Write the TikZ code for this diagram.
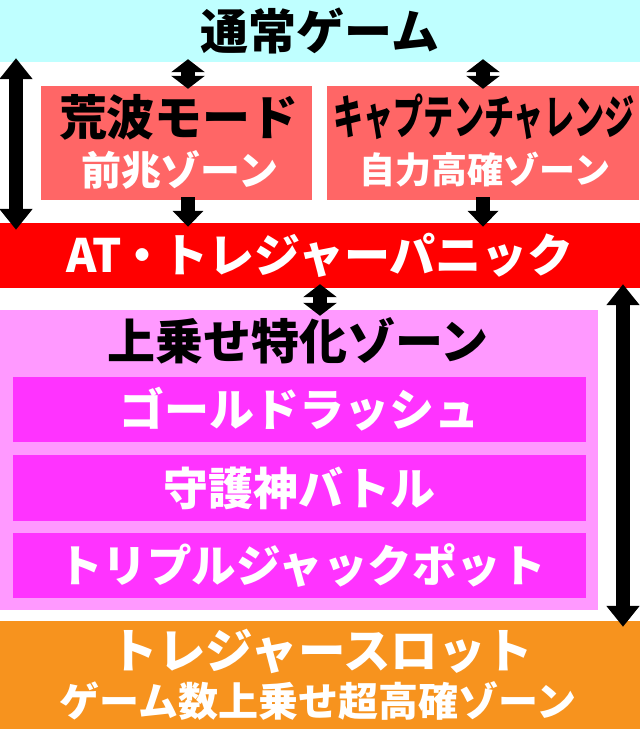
\documentclass[tikz,border=0pt]{standalone}
\usepackage{fontspec}
\newfontfamily\jpfont{Noto Sans CJK JP}
\usetikzlibrary{arrows.meta}

\definecolor{tsujo}{HTML}{BFFFFF}
\definecolor{zenchou}{HTML}{FF6666}
\definecolor{atred}{HTML}{FF0000}
\definecolor{tokka}{HTML}{FF99FF}
\definecolor{tokkain}{HTML}{FF33FF}
\definecolor{slotor}{HTML}{F7931E}

\newcommand{\jpsize}[1]{\fontsize{#1}{#1}\selectfont}

\tikzset{
  band/.style={inner sep=0pt, draw=none, font=\jpfont\bfseries\jpsize{46}},
  label/.style={inner sep=0pt, font=\jpfont\bfseries\jpsize{#1}},
  dblarr/.style={line width=14pt, {Triangle[length=13pt,width=33pt]}-{Triangle[length=13pt,width=33pt]}},
  longarr/.style={line width=14pt, {Triangle[length=21pt,width=32pt]}-{Triangle[length=21pt,width=32pt]}},
  downarr/.style={line width=14pt, -{Triangle[length=16pt,width=30pt]}}
}

\begin{document}
\begin{tikzpicture}[x=1pt,y=1pt]

\useasboundingbox (0,0) rectangle (640,-729);

% Bandas e caixas
\node[band, fill=tsujo, minimum width=640pt, minimum height=62pt, font=\jpfont\bfseries\jpsize{48}] (normal) at (320,-31) {通常ゲーム};
\node[band, fill=zenchou, minimum width=271pt, minimum height=114pt] (arawave) at (176.5,-143) {};
\node[band, fill=zenchou, minimum width=312pt, minimum height=114pt] (captain) at (483,-143) {};
\node[band, fill=atred, text=white, minimum width=640pt, minimum height=65pt] (atpanic) at (320,-255.5) {AT\kern-3pt・\kern-3ptトレジャーパニック};
\node[band, fill=tokka, minimum width=598pt, minimum height=300pt] (uwanose) at (299,-460) {};
\node[band, fill=tokkain, text=white, minimum width=573pt, minimum height=65pt, font=\jpfont\bfseries\jpsize{45}] (gold) at (299.5,-409.5) {ゴールドラッシュ};
\node[band, fill=tokkain, text=white, minimum width=573pt, minimum height=66pt, font=\jpfont\bfseries\jpsize{45}] (shugo) at (299.5,-488) {守護神バトル};
\node[band, fill=tokkain, minimum width=573pt, minimum height=65pt] (triple) at (299.5,-565.5) {};
\node[band, fill=slotor, minimum width=640pt, minimum height=108pt] (slot) at (320,-675) {};

% Textos
\node[label=48] (arawavet) at (179,-117) {荒波モード};
\node[label=40, text=white] (arawaves) at (180,-170) {前兆ゾーン};
\node[label=47] (captaint) at (484,-117) {\scalebox{0.64}[1]{キャプテンチャレンジ}};
\node[label=36, text=white] (captains) at (485,-170) {自力高確ゾーン};
\node[label=48] (uwanoset) at (298,-341) {上乗せ特化ゾーン};
\node[label=44.5, text=white] (triplet) at (302,-565) {トリプルジャックポット};
\node[label=47.5, text=white] (slott) at (322,-651) {トレジャースロット};
\node[label=40, text=white] (slots) at (318,-701) {ゲーム数上乗せ超高確ゾーン};

% Setas
\coordinate (axl) at (16,0);
\coordinate (axa) at (188,0);
\coordinate (axc) at (483,0);
\coordinate (axm) at (320,0);
\coordinate (axr) at (623,0);

\draw[longarr, shorten <=-4pt, shorten >=-7pt] (axl |- normal.south) -- (axl |- atpanic.north);
\draw[dblarr, shorten <=-3pt, shorten >=-3pt] (axa |- normal.south) -- (axa |- arawave.north);
\draw[dblarr, shorten <=-3pt, shorten >=-3pt] (axc |- normal.south) -- (axc |- captain.north);
\draw[downarr, shorten <=-3pt, shorten >=-4pt] (axa |- arawave.south) -- (axa |- atpanic.north);
\draw[downarr, shorten <=-3pt, shorten >=-4pt] (axc |- captain.south) -- (axc |- atpanic.north);
\draw[dblarr, shorten <=-4pt, shorten >=-6pt] (axm |- atpanic.south) -- (axm |- uwanose.north);
\draw[longarr, shorten <=-4pt, shorten >=-6pt] (axr |- atpanic.south) -- (axr |- slot.north);

\end{tikzpicture}
\end{document}
